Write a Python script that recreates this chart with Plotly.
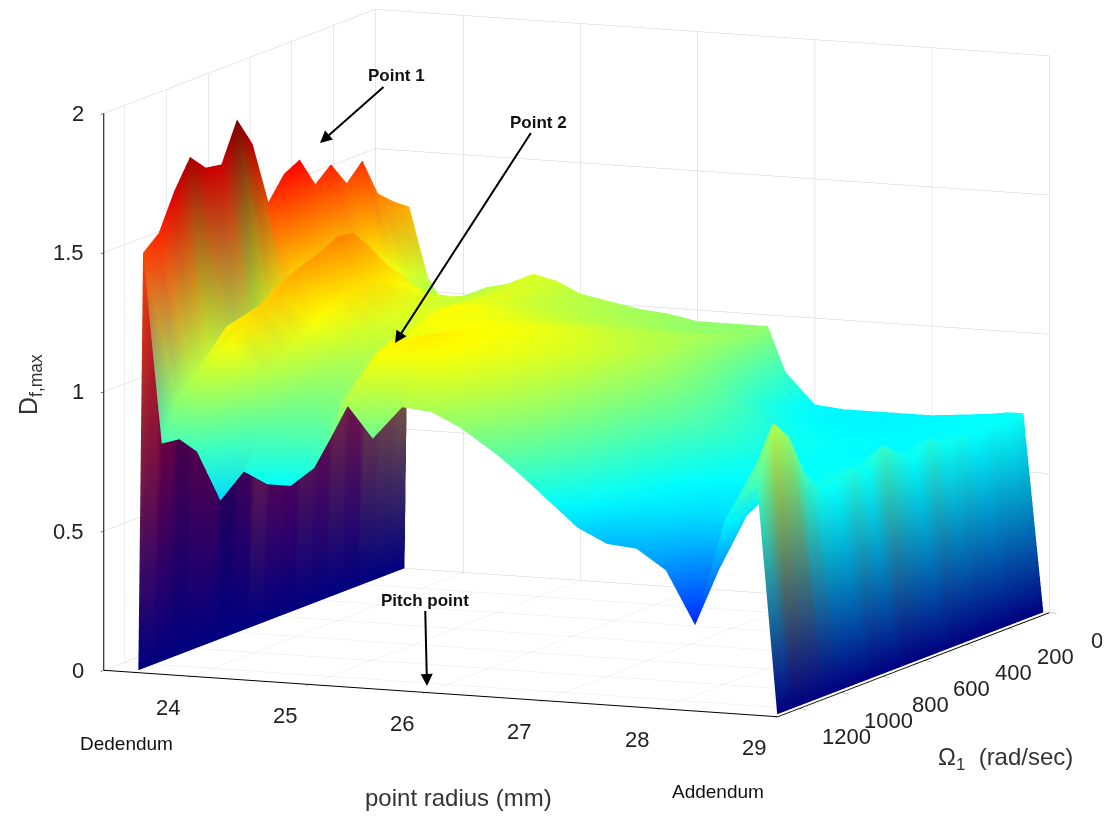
import plotly.graph_objects as go

radius = [23.54,23.7,23.85,24,24.2,24.4,24.6,24.8,25,25.25,25.5,25.75,26,26.25,26.5,26.6,26.75,27,27.25,27.5,27.75,28,28.25,28.5,28.65,28.78]
wall_left = 23.5
wall_right = 28.95
omega = [1275,1200,1125,1050,975,900,825,750,675,600,525,450,375,300,225,150,75,0]

w1275=[1.50,.82,.84,.80,.63,.74,.70,.70,.77,1.02,.89,1.01,1.00,.95,.88,.85,.80,.71,.62,.57,.56,.49,.30,.68,.76,.81]
w1200=[1.55,.95,.98,1.02,.80,.82,.80,.78,.85,1.08,1.04,1.08,1.05,1.0,.93,.90,.85,.76,.68,.62,.60,.55,.42,.66,.88,1.02]
w1125=[1.68,1.02,1.10,1.14,.95,.88,.86,.86,.94,1.14,1.14,1.13,1.09,1.04,.97,.94,.89,.80,.72,.66,.64,.60,.58,.72,.88,.95]
w1050=[1.78,1.05,1.18,1.20,1.02,.92,.90,.93,1.02,1.17,1.18,1.15,1.11,1.06,1.0,.97,.92,.83,.75,.68,.66,.64,.66,.72,.78,.80]
w975=[1.72,1.03,1.18,1.24,1.06,.96,.94,.98,1.07,1.16,1.18,1.16,1.12,1.08,1.02,.99,.94,.85,.76,.69,.67,.66,.67,.70,.72,.72]
w900=[1.71,1.0,1.20,1.27,1.10,1.00,.98,1.02,1.10,1.14,1.17,1.15,1.12,1.09,1.04,1.0,.95,.86,.78,.72,.69,.67,.68,.70,.72,.70]
w825=[1.85,1.02,1.25,1.30,1.14,1.03,1.01,1.05,1.13,1.14,1.16,1.15,1.12,1.09,1.05,1.01,.96,.88,.80,.74,.71,.69,.69,.70,.72,.75]
w750=[1.74,1.08,1.28,1.33,1.17,1.05,1.04,1.08,1.15,1.15,1.15,1.14,1.12,1.09,1.05,1.02,.97,.90,.82,.76,.72,.70,.70,.71,.71,.71]
w675=[1.51,1.12,1.26,1.35,1.20,1.07,1.06,1.10,1.16,1.14,1.14,1.13,1.11,1.08,1.05,1.02,.98,.90,.83,.77,.73,.70,.70,.70,.72,.79]
w600=[1.59,1.15,1.30,1.38,1.22,1.09,1.08,1.12,1.16,1.13,1.12,1.11,1.10,1.07,1.04,1.02,.98,.90,.82,.76,.72,.70,.70,.70,.71,.74]
w525=[1.62,1.18,1.32,1.37,1.21,1.10,1.10,1.13,1.14,1.12,1.10,1.09,1.08,1.05,1.03,1.01,.97,.88,.80,.75,.72,.70,.69,.70,.70,.70]
w450=[1.51,1.16,1.28,1.30,1.18,1.09,1.10,1.12,1.12,1.10,1.08,1.07,1.06,1.04,1.02,1.0,.95,.86,.78,.73,.71,.70,.69,.69,.70,.75]
w375=[1.56,1.15,1.20,1.22,1.14,1.07,1.09,1.11,1.10,1.08,1.06,1.05,1.04,1.03,1.01,.99,.93,.82,.75,.71,.70,.69,.69,.69,.70,.71]
w300=[1.47,1.14,1.12,1.14,1.10,1.06,1.08,1.11,1.08,1.06,1.04,1.03,1.02,1.01,1.0,.98,.90,.78,.72,.70,.69,.69,.69,.69,.70,.72]
w225=[1.53,1.15,1.05,1.06,1.06,1.06,1.08,1.10,1.06,1.04,1.03,1.01,1.0,.99,.99,.97,.87,.74,.70,.69,.69,.68,.69,.69,.70,.69]
w150=[1.39,1.12,1.0,1.0,1.03,1.05,1.08,1.09,1.05,1.03,1.01,1.0,.98,.97,.97,.97,.84,.72,.69,.68,.68,.68,.69,.69,.70,.71]
w75=[1.34,1.08,.97,.98,1.03,1.05,1.09,1.08,1.04,1.02,1.0,.99,.97,.96,.96,.96,.82,.70,.68,.68,.68,.68,.69,.70,.70,.70]
w0=[1.30,1.05,.95,.97,1.03,1.05,1.09,1.07,1.03,1.01,.99,.98,.96,.96,.96,.96,.80,.69,.68,.68,.68,.68,.69,.70,.71,.71]

rows = [w1275,w1200,w1125,w1050,w975,w900,w825,w750,w675,w600,w525,w450,w375,w300,w225,w150,w75,w0]

radius_ticks = [24,25,26,27,28,29]
omega_ticks = [0,200,400,600,800,1000,1200]
z_ticks = [0,0.5,1,1.5,2]
z_tick_text = ["0","0.5","1","1.5","2"]
radius_range = [23.25,29]
omega_range = [1300,0]
z_range = [0,2]
color_top = 1.85
jet_stops = [(0,0,0,128),(0.125,0,0,255),(0.375,0,255,255),(0.625,255,255,0),(0.875,255,0,0),(1,128,0,0)]

def jet(v):
    t = max(0.0, min(1.0, v / color_top))
    for a, b in zip(jet_stops, jet_stops[1:]):
        if t <= b[0]:
            f = (t - a[0]) / (b[0] - a[0])
            return "rgb(%d,%d,%d)" % tuple(a[i] + f * (b[i] - a[i]) for i in (1, 2, 3))

# The surface plus its two walls, coloured per vertex so colours blend across each facet.
x_all = [wall_left] + radius + [wall_right]
z_all = [[0] + r + [0] for r in rows]
nr, nc = len(omega), len(x_all)
vx, vy, vz, vc, ti, tj, tk = [], [], [], [], [], [], []
for r in range(nr):
    for c in range(nc):
        vx.append(x_all[c]); vy.append(omega[r]); vz.append(z_all[r][c]); vc.append(jet(z_all[r][c]))
for r in range(nr - 1):
    for c in range(nc - 1):
        a = r * nc + c
        ti += [a, a]; tj += [a + 1, a + nc + 1]; tk += [a + nc + 1, a + nc]

FONT = "Liberation Sans, Arial, sans-serif"

fig = go.Figure(go.Mesh3d(x=vx, y=vy, z=vz, i=ti, j=tj, k=tk, vertexcolor=vc, flatshading=False,
    lighting=dict(ambient=1, diffuse=0, specular=0, roughness=1, fresnel=0), hoverinfo="skip"))

axis = dict(showbackground=True, backgroundcolor="white", gridcolor="#cfcfcf", gridwidth=1,
            showline=True, linecolor="black", linewidth=2, ticks="outside", ticklen=8, tickcolor="black",
            zeroline=False, showspikes=False, title="", showticklabels=False)

def tick_note(text, x, y, z, dx, dy, anchor="center"):
    return dict(text=text, x=x, y=y, z=z, showarrow=False, xshift=dx, yshift=dy, xanchor=anchor, yanchor="middle",
                font=dict(family=FONT, size=22, color="#222"))

tick_notes = [tick_note(str(v), v, omega_range[0], 0, -24, -31) for v in radius_ticks]
tick_notes += [tick_note(str(v), radius_range[1], v, 0, 48, -28) for v in omega_ticks]
tick_notes += [tick_note(t, radius_range[0], omega_range[0], v, -18, 0, "right") for v, t in zip(z_ticks, z_tick_text)]

def px(x, y):
    return (x - 8) / 1110, 1 - (y - 8) / 818

def label(text, x, y, size, bold=False, angle=0, color="#222"):
    X, Y = px(x, y)
    return dict(text=f"<b>{text}</b>" if bold else text, x=X, y=Y, xref="paper", yref="paper", showarrow=False,
                font=dict(family=FONT, size=size, color=color), textangle=angle, xanchor="center", yanchor="middle")

def arrow(text, hx, hy, tx, ty):
    X, Y = px(hx, hy)
    return dict(text=f"<b>{text}</b>", x=X, y=Y, xref="paper", yref="paper", ax=tx-hx, ay=ty-hy, showarrow=True,
                arrowhead=2, arrowwidth=2, arrowsize=1.2, arrowcolor="black",
                font=dict(family=FONT, size=17, color="#111"))

fig.update_layout(
    width=1110, height=818, margin=dict(l=0,r=0,t=0,b=0), paper_bgcolor="white", showlegend=False,
    scene=dict(
        domain=dict(x=[0,1], y=[0,1]),
        xaxis=dict(axis, range=radius_range, tickvals=radius_ticks),
        yaxis=dict(axis, range=omega_range, tickvals=omega_ticks),
        zaxis=dict(axis, range=z_range, tickvals=z_ticks),
        aspectmode="manual", aspectratio=dict(x=1.79,y=1.70,z=1.38),
        camera=dict(projection=dict(type="orthographic"), eye=dict(x=0.386,y=-0.995,z=0.042), center=dict(x=-0.036,y=0,z=-0.136), up=dict(x=0,y=0,z=1)),
        annotations=tick_notes,
    ),
    annotations=[
        arrow("Point 1", 320, 143, 396, 76),
        arrow("Point 2", 395, 343, 538, 122),
        arrow("Pitch point", 427, 686, 425, 600),
        label("Dedendum", 126, 743, 19, color="#111"),
        label("Addendum", 718, 791, 19, color="#111"),
        label("point radius (mm)", 458, 797, 24, color="#333"),
        label("\u03a9<sub>1</sub>  (rad/sec)", 1005, 758, 24, color="#333"),
        label("D<sub>f,max</sub>", 30, 385, 25, angle=-90, color="#333"),
    ],
)
fig.write_html("out.html")
